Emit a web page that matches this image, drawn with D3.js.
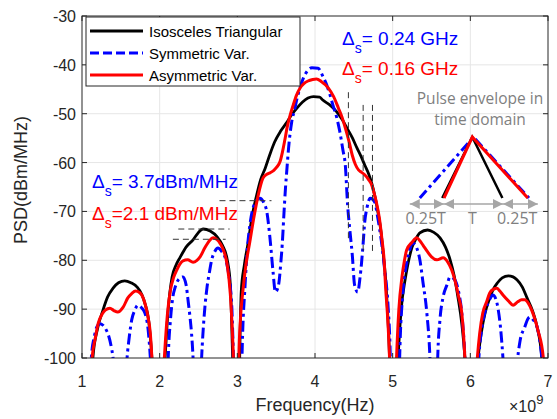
<!DOCTYPE html>
<html>
<head>
<meta charset="utf-8">
<script src="https://cdn.jsdelivr.net/npm/d3@7"></script>
<style>
  body { margin: 0; background: #fff; }
  svg { display: block; font-family: "Liberation Sans", Arial, sans-serif; }
</style>
</head>
<body>
<div id="chart"></div>
<script>
// axis ticks
const xTicks = [1, 2, 3, 4, 5, 6, 7];
const yTicks = [-100, -90, -80, -70, -60, -50, -40, -30];
const seriesNames = ["Isosceles Triangular", "Symmetric Var.", "Asymmetric Var."];

// PSD curves, [frequency (x1e9 Hz), PSD dBm/MHz]
// points at -130 are nulls below the axis
const isoPsd = [
  [1.10,-130],[1.14,-100],[1.20,-94],[1.27,-90.2],[1.33,-87.5],[1.40,-85.7],[1.47,-84.6],[1.55,-84.2],[1.63,-84.6],[1.71,-85.5],[1.77,-87],[1.81,-88.8],[1.86,-92.5],[1.90,-100],[1.98,-130],
  [2.07,-100],[2.11,-90],[2.16,-83.4],[2.21,-81],[2.26,-79.5],[2.34,-77.3],[2.43,-75.8],[2.50,-74.3],[2.56,-73.6],[2.65,-74],[2.74,-75.2],[2.81,-77],[2.87,-79.9],[2.91,-85],[2.94,-100],[3.0,-130],
  [3.03,-100],[3.05,-86.5],[3.09,-81],[3.14,-76.3],[3.19,-71],[3.25,-66.6],[3.30,-63.5],[3.36,-61.1],[3.42,-58.3],[3.48,-55.8],[3.56,-53.5],[3.64,-51.7],[3.70,-50.2],[3.77,-48.8],[3.84,-47.6],[3.91,-46.8],[3.98,-46.5],[4.06,-46.6],[4.10,-47.2],[4.19,-48.2],[4.28,-49.6],[4.35,-51.2],[4.41,-52.9],[4.48,-54.9],[4.54,-57.0],[4.60,-59],[4.64,-60.5],[4.69,-62.3],[4.73,-64.2],[4.77,-66.8],[4.81,-70.1],[4.85,-74.2],[4.88,-78.9],[4.91,-84],[4.93,-89.2],[4.96,-100],[5.0,-130],
  [5.07,-100],[5.11,-90],[5.16,-84],[5.20,-80.5],[5.25,-77.3],[5.30,-75.6],[5.35,-74.4],[5.45,-73.8],[5.53,-74.3],[5.61,-75.4],[5.68,-77.3],[5.74,-79.9],[5.79,-83],[5.84,-87.5],[5.89,-93],[5.93,-100],[6.0,-130],
  [6.10,-100],[6.14,-95],[6.19,-90.8],[6.24,-88.2],[6.29,-86.1],[6.35,-84.6],[6.41,-83.6],[6.49,-83.2],[6.55,-83.4],[6.60,-84.0],[6.67,-85.5],[6.73,-87.7],[6.80,-90.3],[6.86,-93.7],[6.92,-100],[7.0,-130]
];

const symPsd = [
  [1.08,-130],[1.12,-100],[1.16,-95.5],[1.19,-93.7],[1.23,-93.0],[1.27,-93.3],[1.31,-94.2],[1.34,-95.3],[1.38,-98],[1.40,-100],[1.49,-130],
  [1.58,-100],[1.61,-95.5],[1.64,-92.2],[1.68,-90.2],[1.72,-89.2],[1.76,-89.6],[1.81,-90.8],[1.85,-94],[1.88,-100],[1.95,-130],
  [2.07,-130],[2.11,-100],[2.14,-92],[2.17,-87.5],[2.20,-85.5],[2.24,-84.0],[2.30,-83.4],[2.34,-85],[2.37,-88.8],[2.39,-91.5],[2.41,-94.9],[2.43,-100],[2.48,-130],
  [2.54,-100],[2.57,-92],[2.61,-85.5],[2.64,-82.5],[2.67,-79.9],[2.71,-78.2],[2.75,-77.5],[2.80,-78.2],[2.84,-79.3],[2.88,-82],[2.91,-85.5],[2.93,-90],[2.95,-100],[3.0,-130],
  [3.03,-130],[3.06,-100],[3.10,-85],[3.13,-77.5],[3.16,-73],[3.22,-68.5],[3.29,-67.3],[3.34,-68.2],[3.38,-70.1],[3.42,-75.4],[3.46,-82.4],[3.49,-86.5],[3.53,-85.1],[3.56,-80.5],[3.58,-76.3],[3.60,-70.5],[3.62,-65.2],[3.64,-61],[3.66,-57.0],[3.70,-51.7],[3.74,-49],[3.77,-46.8],[3.81,-44.5],[3.85,-42.7],[3.90,-41.3],[3.96,-40.6],[4.04,-40.7],[4.10,-42.3],[4.15,-44.1],[4.19,-46],[4.23,-48.2],[4.28,-50.8],[4.32,-53.7],[4.36,-57.5],[4.39,-60.5],[4.42,-68.7],[4.45,-74],[4.48,-78.9],[4.51,-85.1],[4.55,-86.5],[4.58,-83.5],[4.60,-80.4],[4.62,-76.5],[4.64,-72.2],[4.67,-69.2],[4.71,-67.3],[4.77,-68.1],[4.80,-70.5],[4.83,-73.4],[4.87,-78],[4.90,-82.4],[4.94,-89.2],[4.97,-100],[5.0,-130],
  [5.06,-130],[5.09,-100],[5.13,-87],[5.18,-80.6],[5.22,-77.8],[5.26,-76.5],[5.31,-77.5],[5.35,-79.9],[5.39,-84.5],[5.44,-90.8],[5.48,-100],[5.53,-130],
  [5.55,-130],[5.58,-100],[5.61,-92],[5.65,-87.5],[5.70,-85],[5.74,-83.4],[5.80,-84.0],[5.85,-86.5],[5.89,-90.8],[5.93,-100],[5.99,-130],
  [6.05,-130],[6.11,-100],[6.15,-93.7],[6.20,-90],[6.25,-88],[6.29,-87.1],[6.33,-88],[6.36,-90.2],[6.39,-94],[6.42,-100],[6.51,-130],
  [6.61,-100],[6.64,-96.5],[6.70,-93.7],[6.74,-92],[6.77,-91.6],[6.81,-92.2],[6.86,-93.7],[6.90,-97],[6.92,-100],[7.0,-130]
];

const asymPsd = [
  [1.08,-130],[1.13,-100],[1.17,-96],[1.21,-92.8],[1.26,-91],[1.30,-90.2],[1.36,-89.8],[1.41,-90.3],[1.46,-90.6],[1.53,-89.6],[1.59,-87.7],[1.64,-86.8],[1.69,-86.3],[1.74,-86.6],[1.77,-87.1],[1.81,-88.8],[1.85,-91.6],[1.88,-95],[1.90,-100],[1.97,-130],
  [2.06,-100],[2.10,-91],[2.14,-86],[2.18,-83.5],[2.22,-82],[2.26,-80.8],[2.30,-80.1],[2.36,-79.9],[2.43,-80.4],[2.48,-80.0],[2.52,-79.3],[2.58,-77.5],[2.64,-76.0],[2.69,-75.4],[2.74,-75.8],[2.78,-76.6],[2.82,-77.9],[2.87,-81],[2.91,-87],[2.95,-100],[3.0,-130],
  [3.02,-100],[3.04,-92],[3.07,-86.5],[3.11,-81],[3.16,-76.3],[3.21,-71.5],[3.27,-66.6],[3.33,-63.2],[3.38,-62.4],[3.42,-62.1],[3.47,-61.6],[3.51,-60.9],[3.55,-59.8],[3.58,-57.9],[3.61,-55.5],[3.64,-52.9],[3.68,-50.3],[3.72,-48.2],[3.76,-46.3],[3.81,-44.7],[3.86,-43.8],[3.91,-43.3],[3.97,-43],[4.02,-42.9],[4.08,-43.4],[4.17,-44.7],[4.24,-46.5],[4.30,-48.8],[4.35,-50.8],[4.39,-52.9],[4.44,-55.8],[4.48,-58.5],[4.52,-60.4],[4.56,-61.5],[4.60,-62],[4.64,-62.5],[4.69,-63.5],[4.73,-64.6],[4.76,-66.2],[4.79,-68.1],[4.83,-71.5],[4.86,-75.4],[4.89,-80],[4.91,-85.7],[4.94,-93],[4.96,-100],[5.0,-130],
  [5.05,-100],[5.08,-90],[5.12,-83.4],[5.15,-80.2],[5.18,-77.9],[5.25,-76.3],[5.31,-75.4],[5.35,-76],[5.39,-76.9],[5.45,-78.3],[5.50,-79.3],[5.57,-79.9],[5.65,-79.5],[5.71,-80.4],[5.76,-82],[5.80,-84.0],[5.85,-87.5],[5.89,-90.8],[5.93,-100],[5.99,-130],
  [6.09,-100],[6.12,-95],[6.16,-90.8],[6.21,-88.5],[6.25,-86.7],[6.30,-85.9],[6.34,-85.7],[6.38,-86.3],[6.42,-87.1],[6.49,-88.3],[6.55,-89.2],[6.61,-88.5],[6.66,-88.1],[6.70,-88.1],[6.75,-88.9],[6.79,-90.2],[6.84,-92.5],[6.87,-94.3],[6.94,-100],[7.0,-130]
];

// dashed helper lines: horizontal [y, x0, x1], vertical [x, y0, y1]
const hMarks = [[-73.6, 2.24, 2.90], [-75.7, 2.17, 2.85], [-67.8, 2.77, 3.44]];
const vMarks = [[4.43, -45.6, -76.3], [4.62, -48.2, -78.7], [4.74, -48.2, -78.7]];

// inset: pulse envelopes (schematic time in units of T, amplitude)
const insetIso = [[-0.03, 0], [0.48, 1], [0.99, 0]];
const insetSym = [[-0.41, 0], [0.50, 1], [1.44, 0]];
const insetAsym = [[0.0, 0], [0.48, 1], [1.42, 0]];
const insetArrows = [[-0.58, 0], [0, 1], [1, 1.59]];
const insetLabels = [["0.25T", -0.31], ["T", 0.48], ["0.25T", 1.24]];

const W = 557, H = 419;
const m = {left: 82, right: 548, top: 16, bottom: 358};
const axisColor = "#262626";

const x = d3.scaleLinear().domain([1, 7]).range([m.left, m.right]);
const y = d3.scaleLinear().domain([-100, -30]).range([m.bottom, m.top]);

const svg = d3.select("#chart").append("svg")
  .attr("width", W).attr("height", H);

svg.append("defs").append("clipPath").attr("id", "plotClip")
  .append("rect")
  .attr("x", m.left).attr("y", m.top)
  .attr("width", m.right - m.left).attr("height", m.bottom - m.top);

// grid
const grid = svg.append("g").attr("stroke", "#e6e6e6").attr("stroke-width", 1);
grid.selectAll(".gx").data(xTicks.slice(1, -1)).join("line")
  .attr("x1", d => x(d)).attr("x2", d => x(d))
  .attr("y1", m.top).attr("y2", m.bottom);
grid.selectAll(".gy").data(yTicks.slice(1, -1)).join("line")
  .attr("y1", d => y(d)).attr("y2", d => y(d))
  .attr("x1", m.left).attr("x2", m.right);

// curves
const line = d3.line().x(d => x(d[0])).y(d => y(d[1])).curve(d3.curveMonotoneX);
const curves = svg.append("g").attr("clip-path", "url(#plotClip)").attr("fill", "none")
  .attr("stroke-linejoin", "round");

// dashed marks
const marks = svg.append("g").attr("stroke", "#333").attr("stroke-width", 1)
  .attr("stroke-dasharray", "6,4");
marks.selectAll(".h").data(hMarks).join("line")
  .attr("x1", d => x(d[1])).attr("x2", d => x(d[2]))
  .attr("y1", d => y(d[0])).attr("y2", d => y(d[0]));
marks.selectAll(".v").data(vMarks).join("line")
  .attr("x1", d => x(d[0])).attr("x2", d => x(d[0]))
  .attr("y1", d => y(d[1])).attr("y2", d => y(d[2]));

curves.append("path").datum(isoPsd).attr("d", line)
  .attr("stroke", "#000").attr("stroke-width", 2.8);
curves.append("path").datum(symPsd).attr("d", line)
  .attr("stroke", "#0000ff").attr("stroke-width", 3)
  .attr("stroke-dasharray", "11,4,3,4");
curves.append("path").datum(asymPsd).attr("d", line)
  .attr("stroke", "#ff0000").attr("stroke-width", 3);

// axes box + ticks
const ax = svg.append("g").attr("stroke", axisColor).attr("fill", "none");
ax.append("rect").attr("x", m.left).attr("y", m.top)
  .attr("width", m.right - m.left).attr("height", m.bottom - m.top)
  .attr("stroke-width", 1);
xTicks.forEach(t => {
  ax.append("line").attr("x1", x(t)).attr("x2", x(t)).attr("y1", m.bottom).attr("y2", m.bottom - 5);
  ax.append("line").attr("x1", x(t)).attr("x2", x(t)).attr("y1", m.top).attr("y2", m.top + 5);
});
yTicks.forEach(t => {
  ax.append("line").attr("y1", y(t)).attr("y2", y(t)).attr("x1", m.left).attr("x2", m.left + 5);
  ax.append("line").attr("y1", y(t)).attr("y2", y(t)).attr("x1", m.right).attr("x2", m.right - 5);
});

const lab = svg.append("g").attr("fill", axisColor).style("font-size", "16px");
lab.selectAll(".xt").data(xTicks).join("text")
  .attr("x", d => x(d)).attr("y", 387).attr("text-anchor", "middle").text(d => d);
lab.selectAll(".yt").data(yTicks).join("text")
  .attr("x", 76).attr("y", d => y(d) + 6).attr("text-anchor", "end").text(d => d);

svg.append("text").attr("x", 315).attr("y", 411)
  .attr("text-anchor", "middle").attr("fill", axisColor).style("font-size", "18px")
  .text("Frequency(Hz)");
svg.append("text").attr("transform", "translate(27,180) rotate(-90)")
  .attr("text-anchor", "middle").attr("fill", axisColor).style("font-size", "18px")
  .text("PSD(dBm/MHz)");
const exp = svg.append("text").attr("x", 509).attr("y", 412).attr("fill", axisColor)
  .style("font-size", "16px");
exp.append("tspan").text("\u00d710");
exp.append("tspan").attr("dy", -8).style("font-size", "13px").text("9");

// legend
const lg = svg.append("g");
lg.append("rect").attr("x", 86).attr("y", 17).attr("width", 214).attr("height", 69)
  .attr("fill", "#fff").attr("stroke", axisColor).attr("stroke-width", 1);
const lgStyles = [
  {c: "#000", dash: null},
  {c: "#0000ff", dash: "9,4"},
  {c: "#ff0000", dash: null}
];
seriesNames.forEach((n, i) => {
  const yy = 31 + i * 22;
  lg.append("line").attr("x1", 90).attr("x2", 143).attr("y1", yy).attr("y2", yy)
    .attr("stroke", lgStyles[i].c).attr("stroke-width", 3)
    .attr("stroke-dasharray", lgStyles[i].dash);
  lg.append("text").attr("x", 149).attr("y", yy + 5.5).attr("fill", "#000")
    .style("font-size", "15px").text(n);
});

// delta annotations
function delta(px, py, color, rest) {
  const t = svg.append("text").attr("x", px).attr("y", py).attr("fill", color)
    .style("font-size", "19px");
  t.append("tspan").text("\u0394");
  t.append("tspan").attr("dy", 8).style("font-size", "14px").text("s");
  t.append("tspan").attr("dy", -8).text(rest);
}
delta(342, 45, "#0000ff", "= 0.24 GHz");
delta(342, 75, "#ff0000", "= 0.16 GHz");
delta(92, 188, "#0000ff", "= 3.7dBm/MHz");
delta(92, 220, "#ff0000", "=2.1 dBm/MHz");

// inset
const ix = d3.scaleLinear().domain([0, 1]).range([444, 503]);
const iy = d3.scaleLinear().domain([0, 1]).range([198, 137]);
const inset = svg.append("g");
const grey = "#7f7f7f";
inset.append("text").attr("x", 480).attr("y", 103.5).attr("text-anchor", "middle")
  .attr("fill", grey).style("font-family", "'Open Sans', sans-serif").style("font-size", "15.5px")
  .text("Pulse envelope in");
inset.append("text").attr("x", 480).attr("y", 125).attr("text-anchor", "middle")
  .attr("fill", grey).style("font-family", "'Open Sans', sans-serif").style("font-size", "15.5px")
  .text("time domain");

svg.select("defs").append("marker").attr("id", "ah")
  .attr("viewBox", "0 -5 10 10").attr("refX", 10).attr("refY", 0)
  .attr("markerWidth", 10).attr("markerHeight", 10).attr("markerUnits", "userSpaceOnUse")
  .attr("orient", "auto-start-reverse")
  .append("path").attr("d", "M0,-5L10,0L0,5Z").attr("fill", "#a6a6a6");
inset.selectAll(".arr").data(insetArrows).join("line")
  .attr("x1", d => ix(d[0])).attr("x2", d => ix(d[1]))
  .attr("y1", 204).attr("y2", 204)
  .attr("stroke", "#a6a6a6").attr("stroke-width", 1.5)
  .attr("marker-start", "url(#ah)").attr("marker-end", "url(#ah)");
inset.selectAll(".il").data(insetLabels).join("text")
  .attr("x", d => ix(d[1])).attr("y", 224).attr("text-anchor", "middle")
  .attr("fill", grey).style("font-family", "'Open Sans', sans-serif").style("font-size", "16px")
  .text(d => d[0]);

const iline = d3.line().x(d => ix(d[0])).y(d => iy(d[1]));
inset.append("path").datum(insetSym).attr("d", iline).attr("fill", "none")
  .attr("stroke", "#0000ff").attr("stroke-width", 3).attr("stroke-dasharray", "10,4,3,4");
inset.append("path").datum(insetIso).attr("d", iline).attr("fill", "none")
  .attr("stroke", "#000").attr("stroke-width", 2.5);
inset.append("path").datum(insetAsym).attr("d", iline).attr("fill", "none")
  .attr("stroke", "#ff0000").attr("stroke-width", 3);
</script>
</body>
</html>
